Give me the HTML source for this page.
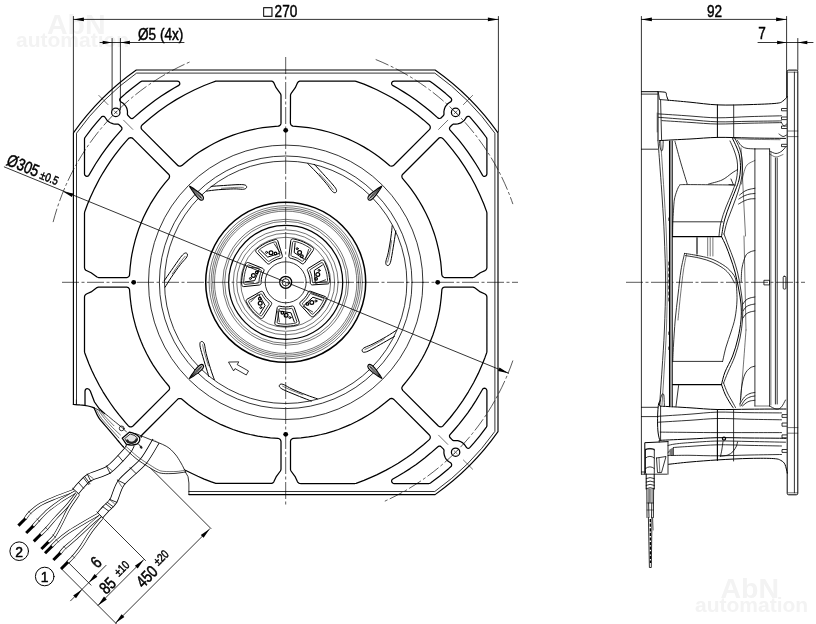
<!DOCTYPE html><html><head><meta charset="utf-8"><title>Drawing</title><style>
html,body{margin:0;padding:0;background:#fff}
svg{display:block;filter:grayscale(1)}
path,circle,rect{fill:none;stroke:#000;stroke-linecap:round;stroke-linejoin:round}
.k{stroke-width:1.25}
.k2{stroke-width:1.5}
.n{stroke-width:.8}
.n2{stroke-width:1}
.f{stroke-width:1.15}
.cl{stroke-width:1.1;fill:#c8c8c8}
.t{stroke-width:.55}
.c{stroke-width:.65;stroke-dasharray:17 2.5 3 2.5;stroke-linecap:butt}
.c2{stroke-width:.65;stroke-dasharray:14 2.5 3 2.5;stroke-linecap:butt}
.a{fill:#000;stroke:none}
.w{fill:#fff;stroke:none}
text{font-family:"Liberation Sans",sans-serif;fill:#000;stroke:#000;stroke-width:.5}
.wm{fill:#f3f3f3;font-weight:bold;stroke:none}
</style></head><body><svg width="816" height="624" viewBox="0 0 816 624">
<text class="wm" x="47" y="34" font-size="28.5">AbN</text>
<text class="wm" x="16" y="47" font-size="21">automation</text>
<text class="wm" x="720.5" y="597.5" font-size="28.5">AbN</text>
<text class="wm" x="695" y="612.3" font-size="21">automation</text>
<path class="k" d="M402.7 386L402.1 387L401.8 388.1L402.1 389.3L402.7 390.4L438.4 426L439.5 426.7L440.8 426.9L442 426.6L443 425.9L450.3 417.5L456.8 409.2L462.8 400.6L468.4 391.8L473.6 382.7L478.3 373.4L482.5 363.8L485 357.4L486.7 352.7L486.9 351.6L486.9 297L486.6 295.7L485.9 294.7L485 294L480.3 291.9L474.4 287.6L473 287.1L445 287L443.8 287.3L442.8 287.9L442.1 288.8L441.9 289.5L441.2 297.6L440.3 305.2L439.5 310.3L437.9 317.8L436 325.2L434.5 330.1L432.9 335L430.1 342.1L428.1 346.8L424.7 353.7L422.3 358.2L418.4 364.8L414.2 371.2L411.2 375.4L406.5 381.4Z"/>
<path class="k" d="M402.8 174.2L402.1 175.1L401.9 175.9L401.9 176.9L402.3 178.1L408.1 185.1L411.2 189.2L415.6 195.4L418.4 199.8L422.3 206.4L425.9 213.2L429.1 220.1L431.1 224.9L433.7 232L435.3 236.9L436.7 241.9L438.5 249.3L439.5 254.3L440.7 261.9L441.2 267L441.8 274.6L442.1 275.7L442.5 276.3L442.9 276.8L443.8 277.3L445 277.6L473 277.5L474.4 277L480.3 272.7L485 270.6L485.9 269.9L486.6 268.9L486.9 267.6L486.9 213L486.7 211.9L483.8 204L479.7 194.4L475.2 185L470.2 175.8L464.7 166.9L458.8 158.2L452.5 149.9L445.9 141.9L443 138.7L442 138L441.3 137.7L440.1 137.7L438.8 138.2Z"/>
<path class="k" d="M293.5 438.4L292.3 438.7L291.3 439.4L290.7 440.4L290.5 441.1L290.5 469.6L291 471L295.3 476.9L297.4 481.6L297.8 482.2L298.5 482.9L299.2 483.3L300.4 483.5L355 483.5L356.1 483.3L364 480.4L370.4 477.7L376.7 474.9L386.1 470.1L392.2 466.8L398.2 463.2L406.9 457.4L412.6 453.4L418.1 449.1L423.5 444.7L429.3 439.6L430.1 438.5L430.3 437.2L430.1 436L429.4 435L393.8 399.4L392.7 398.7L391.5 398.4L390.5 398.6L389.8 398.9L384.8 403.1L378.8 407.8L372.6 412.2L368.2 415L361.6 418.9L357.1 421.3L350.2 424.7L345.5 426.7L338.4 429.5L333.5 431.1L326.2 433.3L321.2 434.5L313.7 436.1L308.6 436.9L301 437.8Z"/>
<path class="k" d="M290.4 123L290.6 124.1L290.9 124.8L291.8 125.6L292.8 126.1L301 126.8L308.6 127.7L313.7 128.5L321.2 130.1L328.6 132L333.5 133.5L340.8 136L347.9 138.9L352.5 141L357.1 143.3L363.8 146.9L368.2 149.6L374.6 153.8L378.8 156.8L384.8 161.5L389.8 165.7L390.5 166L391.5 166.2L392.7 165.9L393.8 165.2L429.4 129.6L430.1 128.6L430.3 127.4L430.1 126.1L429.3 125L423.5 119.9L418.1 115.5L409.8 109.2L404 105.2L398.2 101.4L392.2 97.8L386.1 94.5L376.8 89.7L370.4 86.9L364 84.2L356.1 81.3L355 81.1L300.4 81.1L299.7 81.2L298.7 81.6L298.1 82.1L297.4 83L295.3 87.7L291 93.6L290.5 95Z"/>
<path class="k" d="M142 435L141.3 436.1L141.1 437.4L141.4 438.6L142.1 439.6L147.9 444.7L153.3 449.2L161.6 455.4L167.4 459.4L173.2 463.2L179.2 466.8L185.3 470.2L191.5 473.3L197.8 476.3L204.2 479.1L210.7 481.7L215.8 483.4L271.7 483.4L272.9 482.9L273.7 482.1L276.1 476.9L280.4 471L280.9 469.8L281 469L281 441.6L280.9 440.9L280.5 439.9L279.6 439L278.6 438.5L278 438.4L270.4 437.8L262.8 436.9L257.7 436.1L250.2 434.5L245.2 433.3L237.9 431.1L233 429.5L225.9 426.7L221.2 424.7L214.3 421.3L209.8 418.9L203.2 415L198.9 412.3L194.6 409.3L188.5 404.7L182 399.2L181.5 398.9L180.5 398.5L179.1 398.5L178.1 398.9L177.6 399.4Z"/>
<path class="k" d="M142.1 125L141.3 126.1L141.1 127.4L141.3 128.6L142 129.6L177.6 165.2L178.1 165.7L179.1 166.1L180.5 166.1L181.5 165.7L182 165.4L188.5 159.9L194.6 155.3L198.9 152.3L203.2 149.6L209.8 145.7L214.3 143.3L221.2 139.9L225.9 137.9L233 135.1L237.9 133.5L245.2 131.3L250.2 130.1L257.7 128.5L262.8 127.7L270.4 126.8L278 126.2L278.6 126.1L279.6 125.6L280.5 124.7L280.9 123.7L281 123L281 95.6L280.9 94.8L280.4 93.6L276.1 87.7L273.7 82.5L272.9 81.7L271.7 81.2L215.8 81.2L210.7 83L204.2 85.5L194.7 89.7L185.3 94.5L176.2 99.6L167.3 105.2L158.8 111.2L150.6 117.7Z"/>
<path class="k" d="M84.5 267.6L84.8 268.9L85.4 269.8L85.8 270.2L91.1 272.7L97 277L98.4 277.5L126.4 277.6L127.6 277.3L128.6 276.7L129.3 275.8L129.5 275.1L130.2 267L131.1 259.4L131.9 254.3L133.5 246.8L135.4 239.4L136.9 234.5L138.5 229.6L141.3 222.5L143.3 217.8L146.7 210.9L150.3 204.2L153 199.8L157.2 193.4L160.2 189.2L164.9 183.2L168.8 178.6L169.3 177.6L169.5 176.9L169.5 175.9L169.3 175.1L168.6 174.2L133 138.6L131.9 137.9L130.6 137.7L130 137.8L128.9 138.2L128.4 138.7L125.5 141.9L121 147.2L114.6 155.4L110.5 161.1L106.7 166.9L103 172.8L99.5 178.8L94.7 188.1L90.3 197.6L87.6 204L85.2 210.5L84.7 211.9L84.5 213Z"/>
<path class="k" d="M86.4 294L85.5 294.7L85 295.3L84.6 296.3L84.5 297L84.5 351.6L84.7 352.7L86.4 357.3L88.9 363.8L91.7 370.2L94.7 376.5L99.5 385.8L103 391.8L106.7 397.7L110.6 403.5L114.6 409.2L118.9 414.7L125.5 422.7L128.4 425.9L128.9 426.4L130.1 426.9L131.3 426.9L131.9 426.7L133 426L168.6 390.4L169.1 389.9L169.5 388.9L169.6 388.1L169.4 387.1L168.8 386L164.9 381.4L160.2 375.4L157.2 371.2L153 364.8L150.3 360.4L146.7 353.7L143.3 346.8L141.3 342.1L139.4 337.3L136.9 330.1L135.4 325.2L133.5 317.8L131.9 310.3L131.1 305.2L130.2 297.6L129.5 289.5L129.3 288.8L128.6 287.9L127.6 287.3L126.4 287L98.4 287.1L97 287.6L91.1 291.9Z"/>
<path class="k" d="M454.1 430L449.8 434.9L449.5 435.6L449.5 436.2L449.6 436.9L450.2 437.8L452.5 440.1L453.1 440.4L453.7 440.6L456.3 440.5L457.8 440.7L459.3 441.1L460.9 441.8L462.7 442.9L463.9 444L464.9 445.2L466.6 447.6L467.2 448L468 448.3L469.2 448.1L470 447.4L474.4 442.4L479.6 436.2L486.4 427.1L486.9 426L486.9 390.7L486.6 389.6L486 388.8L485.2 388.3L484.2 388.2L483.3 388.5L482.6 389.2L479.7 394.3L475.9 400.6L471.9 406.8L467.8 412.8L463.4 418.6L458.9 424.4Z"/>
<path class="k" d="M450.2 126.8L449.7 127.5L449.5 128.4L449.6 129.3L449.9 129.9L454.1 134.6L458.9 140.2L463.4 145.9L467.8 151.8L471.9 157.8L475.9 164L479.7 170.3L482.6 175.4L483.3 176.1L484 176.3L485 176.3L485.9 175.9L486.6 175L486.9 173.9L486.9 139L486.7 138.1L486.4 137.5L482 131.6L477 125.3L470 117.2L469.6 116.7L469 116.4L467.8 116.4L466.8 116.8L466.3 117.3L465.3 118.9L464.4 120.2L462.8 121.6L461.4 122.6L459.5 123.4L457.8 123.9L455.7 124.1L453.9 124L453.1 124.2L452.3 124.7Z"/>
<path class="k" d="M392.9 479L392.2 479.5L391.8 480.1L391.6 480.8L391.7 481.6L391.9 482.2L392.4 482.8L393 483.2L393.7 483.5L429 483.5L429.7 483.4L430.5 483L433.1 481.1L439.5 476.2L448.9 468.4L451.3 466.2L451.6 465.3L451.6 464.2L451.3 463.6L450.9 463L448.6 461.5L447.3 460.4L446.3 459.3L445.4 458L444.6 456.1L444.2 454.6L443.9 452.9L444 450.3L443.8 449.7L443.5 449.1L440.7 446.4L439.9 446.1L439 446.1L437.9 446.7L430.6 453.1L425 457.7L416.2 464.4L410.1 468.6L404 472.5L397.7 476.3Z"/>
<path class="k" d="M394.1 81.1L393.2 81.3L392.5 81.6L392.1 82.1L391.7 82.8L391.6 83.5L391.7 84.2L392.1 84.9L392.6 85.4L397.7 88.3L404 92.1L410.1 96L416.2 100.2L425 106.9L430.6 111.5L437.8 117.9L438.7 118.4L439.6 118.5L440.7 118.2L443.5 115.5L443.8 114.9L444 114.3L443.9 111.7L444.2 110L444.6 108.5L445.4 106.6L446.3 105.3L447.4 104.1L449.1 102.7L450.9 101.6L451.5 100.6L451.7 100L451.6 99.3L451.4 98.6L450.8 98L445.8 93.6L439.6 88.5L433.1 83.5L429.9 81.3L429 81.1Z"/>
<path class="k" d="M120.6 98L120 98.6L119.7 99.5L119.8 100.4L120.1 101L120.7 101.7L122.8 103.1L124.1 104.2L125.5 105.8L126.6 107.8L127.1 109.3L127.4 110.8L127.5 112.3L127.4 114.3L127.8 115.3L130.5 118.1L131.5 118.5L132.4 118.5L133.5 117.9L140.8 111.5L146.4 106.9L155.2 100.2L161.3 96L167.4 92.1L173.7 88.3L178.8 85.4L179.6 84.5L179.8 83.8L179.7 83L179.3 82.1L178.9 81.6L178.2 81.3L177.3 81.1L142.4 81.1L141.7 81.2L140.9 81.6L138.3 83.5L131.8 88.4L125.6 93.6Z"/>
<path class="k" d="M85 137.5L84.6 138.3L84.5 139L84.5 173.9L84.7 174.8L85.2 175.6L86 176.2L86.9 176.4L87.9 176.2L88.8 175.4L95.5 164L101.5 154.8L105.8 148.9L110.3 143L114.9 137.4L121.5 129.9L121.9 129L121.9 127.9L121.6 127.3L121.2 126.8L119.1 124.7L118.3 124.2L117.5 124L115.1 124.1L113.4 123.8L111.4 123.2L109.9 122.5L108.1 121.2L107 120.2L104.8 117L103.8 116.4L102.7 116.4L102 116.6L101.4 117.1L97 122.2L91.8 128.4Z"/>
<path class="f" d="M73.4 404.5L73.4 132.9A259.6 259.6 0 0 1 136.3 70L435.1 70A259.6 259.6 0 0 1 498 132.9L498 431.7A259.6 259.6 0 0 1 435.1 494.6L188.9 494.6"/>
<path class="n" d="M76.5 404.5L76.5 133.2A256.9 256.9 0 0 1 136.6 73.1L434.8 73.1A256.9 256.9 0 0 1 494.9 133.2L494.9 431.4A256.9 256.9 0 0 1 434.8 491.5L188.9 491.5"/>
<circle class="n" cx="285.7" cy="282.3" r="137.2"/>
<circle class="n" cx="285.7" cy="282.3" r="126.3"/>
<circle class="n" cx="285.7" cy="282.3" r="121.2"/>
<circle class="k2" cx="285.7" cy="282.3" r="80"/>
<circle class="t" cx="285.7" cy="282.3" r="76.6"/>
<circle class="t" cx="285.7" cy="282.3" r="74.6"/>
<circle class="t" cx="285.7" cy="282.3" r="72.9"/>
<circle class="t" cx="285.7" cy="282.3" r="71.2"/>
<circle class="t" cx="285.7" cy="282.3" r="63"/>
<circle class="t" cx="285.7" cy="282.3" r="61"/>
<circle class="k" cx="285.7" cy="282.3" r="57"/>
<circle class="t" cx="285.7" cy="282.3" r="52.5"/>
<circle class="t" cx="285.7" cy="282.3" r="49"/>
<circle class="t" cx="285.7" cy="282.3" r="45"/>
<circle class="n" cx="285.7" cy="282.3" r="20.5"/>
<circle class="k" cx="285.7" cy="282.3" r="6"/>
<circle class="n" cx="285.7" cy="282.3" r="3.6"/>
<path class="n2" d="M256.4 249.5L256 249.9L255.8 250.4L255.7 250.9L255.8 251.5L256 252L256.3 252.4L267.1 263.4L267.5 263.7L268 263.9L268.5 264L269 264L269.5 263.8L270.5 262.9L272.7 261.4L275.2 260.1L277.7 259L281.2 258.1L281.7 257.8L282.1 257.3L282.3 256.8L282.4 256.2L282.3 255.7L277.8 240.9L277.6 240.5L277.3 240.1L276.9 239.8L276.5 239.6L276 239.5L275.5 239.5L274.1 239.9L271.2 240.8L268.2 241.9L265.3 243.3L262.5 244.9L259.8 246.7L257.3 248.7Z"/>
<path class="n" d="M261 248.4L258.7 250.4L258.4 251L258.5 251.3L258.8 251.9L267.8 261.1L268.4 261.4L268.7 261.4L269.3 261.2L271.7 259.6L274.3 258.2L276.8 257.1L279.3 256.3L279.8 255.9L279.9 255.6L279.9 255L276.2 242.7L275.9 242.1L275.3 241.9L274.7 241.9L271.8 242.8L269 243.9L266.2 245.2L263.5 246.8Z"/>
<path class="n2" d="M260.8 250.4L267.7 257.1L278.8 253.6"/>
<path class="n" d="M274.3 243.9L280.2 252.8"/>
<circle class="k" cx="271" cy="252.8" r="1.9"/>
<circle class="k" cx="275.5" cy="253.5" r="1.3"/>
<circle class="n2" cx="266.6" cy="252.4" r="1"/>
<path class="n2" d="M293.1 238.9L292.5 238.9L292 239.1L291.5 239.3L291.2 239.7L290.9 240.2L290.8 240.7L288.9 256L288.9 256.5L289 257L289.3 257.4L289.6 257.8L290.1 258.1L291.4 258.4L293.9 259.1L296.5 260.2L298.9 261.5L301.9 263.7L302.4 263.9L303 263.9L303.5 263.7L304 263.4L304.4 263L313.2 250.4L313.4 249.9L313.5 249.4L313.5 248.9L313.4 248.4L313.1 248L312.8 247.6L311.7 246.8L309.1 245L306.3 243.4L303.4 242L300.5 240.8L297.4 239.9L294.3 239.1Z"/>
<path class="n" d="M291.1 255.1L291.2 255.7L291.7 256.2L294.7 257.2L297.3 258.2L299.9 259.7L301.7 261L302.3 261.2L302.6 261.2L303.2 260.9L303.4 260.7L310.7 250.2L311 249.6L310.9 249.3L310.7 248.7L310.4 248.5L308 246.8L305.3 245.3L302.6 243.9L299.7 242.8L296.8 241.9L294.1 241.3L293.5 241.3L292.9 241.7L292.7 242.3Z"/>
<path class="n2" d="M295.1 242.9L294.2 252.5L303.8 259"/>
<path class="n" d="M308.6 249.5L305.4 259.6"/>
<circle class="k" cx="299.6" cy="252.4" r="1.9"/>
<circle class="k" cx="301.9" cy="256.3" r="1.3"/>
<circle class="n2" cx="297.2" cy="248.7" r="1"/>
<path class="n2" d="M324.2 261L323.9 260.6L323.4 260.3L322.9 260.1L322.4 260L321.9 260.1L321.4 260.3L308.3 268.4L307.9 268.7L307.6 269.1L307.4 269.6L307.3 270.1L307.4 270.6L308 271.8L308.9 274.3L309.7 277L310.2 279.7L310.3 283.3L310.5 283.9L310.9 284.3L311.3 284.6L311.8 284.8L312.4 284.9L327.8 283.9L328.3 283.8L328.7 283.5L329.1 283.2L329.4 282.8L329.6 282.3L329.7 281.8L329.7 280.4L329.4 277.4L328.9 274.2L328.2 271.1L327.3 268L326.1 265L324.8 262.1Z"/>
<path class="n" d="M310.4 269.6L309.9 270.1L309.8 270.7L311 273.7L311.7 276.4L312.2 279.3L312.4 281.6L312.6 282.2L312.8 282.4L313.3 282.7L313.6 282.7L326.4 281.8L326.8 281.8L327.3 281.4L327.5 280.9L327.6 280.5L327.3 277.6L326.9 274.6L326.2 271.6L325.3 268.6L324.2 265.8L323 263.3L322.6 262.8L322 262.6L321.3 262.8Z"/>
<path class="n2" d="M322.4 265.1L314.3 270.4L315.2 282"/>
<path class="n" d="M325.6 279.8L315.7 283.5"/>
<circle class="k" cx="317.8" cy="274.5" r="1.9"/>
<circle class="k" cx="316.1" cy="278.8" r="1.3"/>
<circle class="n2" cx="319.1" cy="270.4" r="1"/>
<path class="n2" d="M326.3 299.1L326.5 298.6L326.4 298.1L326.3 297.6L326 297.1L325.6 296.7L325.1 296.5L310.6 291.3L310.1 291.2L309.6 291.2L309.1 291.3L308.7 291.6L308.4 291.9L307.8 293.2L306.5 295.5L304.8 297.8L303 299.8L300.2 302.2L300 302.7L299.8 303.2L299.8 303.8L300 304.3L300.3 304.8L310.7 316.2L311.1 316.5L311.6 316.7L312.1 316.8L312.6 316.8L313 316.7L313.5 316.4L314.6 315.5L316.8 313.4L319 311.1L321 308.6L322.8 305.9L324.5 303.1L325.9 300.2Z"/>
<path class="n" d="M304.6 301.1L302.7 302.9L302.5 303.5L302.5 303.8L302.8 304.4L311.5 313.9L312 314.2L312.6 314.2L313.2 313.9L315.4 311.9L317.5 309.6L319.3 307.3L321.1 304.8L322.6 302.1L323.8 299.7L323.9 299L323.7 298.4L323.1 298L311.1 293.7L310.4 293.6L309.8 293.9L309.6 294.2L308.2 296.7L306.4 299.1Z"/>
<path class="n2" d="M322 300.2L312.9 297.2L304.3 305.2"/>
<path class="n" d="M312.6 311.9L303.4 306.5"/>
<circle class="k" cx="311.8" cy="302.5" r="1.9"/>
<circle class="k" cx="307.4" cy="303.9" r="1.3"/>
<circle class="n2" cx="315.9" cy="301" r="1"/>
<path class="n2" d="M297.9 324.6L298.4 324.3L298.8 324L299.1 323.6L299.3 323.1L299.3 322.5L299.2 322L294.2 307.4L294 306.9L293.7 306.5L293.3 306.3L292.8 306.1L292.3 306L290.9 306.3L288.4 306.8L285.6 306.9L282.8 306.7L279.2 306.1L278.7 306.2L278.1 306.4L277.7 306.8L277.4 307.2L277.2 307.8L274.8 323L274.8 323.5L274.9 324L275.1 324.4L275.5 324.8L275.9 325.1L276.4 325.3L277.7 325.6L280.8 326L284 326.3L287.2 326.3L290.4 326L293.6 325.6L296.7 324.9Z"/>
<path class="n" d="M279.1 309.5L277.1 322.4L277.3 323L277.8 323.4L281 323.9L284.2 324.2L287.2 324.2L290.3 323.9L293.3 323.5L295.9 322.9L296.5 322.6L296.8 322L296.8 321.4L292.5 308.9L292 308.5L291.6 308.4L288.4 308.9L285.7 309L282.8 308.8L280.5 308.5L279.9 308.5L279.6 308.7L279.2 309.1Z"/>
<path class="n2" d="M294.3 321.9L291 312.8L279.5 311.1"/>
<path class="n" d="M279.3 321.8L277.8 311.2"/>
<circle class="k" cx="286.1" cy="315.3" r="1.9"/>
<circle class="k" cx="282.4" cy="312.7" r="1.3"/>
<circle class="n2" cx="289.9" cy="317.6" r="1"/>
<path class="n2" d="M260.3 318.2L260.7 318.4L261.3 318.5L261.8 318.5L262.3 318.3L262.7 318L263.1 317.6L271.4 304.6L271.6 304.2L271.7 303.7L271.7 303.2L271.5 302.7L271.3 302.2L270.2 301.4L268.3 299.6L266.4 297.5L264.8 295.3L263.1 292.1L262.7 291.7L262.2 291.4L261.6 291.3L261 291.4L260.5 291.6L247.1 299.2L246.7 299.5L246.4 299.9L246.2 300.3L246.1 300.8L246.1 301.3L246.3 301.8L246.9 303L248.4 305.7L250.2 308.4L252.2 310.9L254.4 313.2L256.8 315.4L259.3 317.5Z"/>
<path class="n" d="M249.2 300.4L248.7 300.8L248.6 301.4L248.6 301.7L250.2 304.6L252 307.2L253.9 309.6L256 311.8L258.2 313.9L260.3 315.6L260.9 315.9L261.6 315.7L262.1 315.3L269.1 304.2L269.2 303.8L269 303.2L266.6 301L264.8 298.9L263.1 296.5L262 294.5L261.8 294.3L261.3 294L260.7 294L260.4 294.1Z"/>
<path class="n2" d="M260.1 313.7L265.1 305.5L259.3 295.4"/>
<path class="n" d="M250.8 301.9L258.2 294.2"/>
<circle class="k" cx="260.2" cy="303.2" r="1.9"/>
<circle class="k" cx="259.8" cy="298.7" r="1.3"/>
<circle class="n2" cx="260.8" cy="307.6" r="1"/>
<path class="n2" d="M241.8 284.8L241.9 285.3L242.1 285.8L242.5 286.2L243 286.5L243.5 286.6L244 286.6L259.3 285L259.8 284.9L260.3 284.7L260.7 284.3L260.9 283.9L261.1 283.4L261.1 282.1L261.3 279.5L261.8 276.7L262.5 274.1L264 270.7L264 270.1L263.9 269.6L263.6 269.1L263.2 268.7L262.8 268.4L248.4 262.6L248 262.5L247.5 262.5L247 262.6L246.5 262.9L246.2 263.2L245.9 263.6L245.3 264.9L244.2 267.8L243.2 270.8L242.5 274L242 277.1L241.7 280.3L241.7 283.6Z"/>
<path class="n" d="M243.8 283.2L244 283.8L244.2 284.1L244.5 284.3L245.1 284.4L257.9 283.1L258.6 282.8L258.8 282.6L259 281.9L259.2 279.1L259.7 276.2L260.5 273.5L261.4 271.1L261.4 270.8L261.2 270.2L260.7 269.8L248.8 265L248.2 265L247.6 265.2L247.2 265.7L246.1 268.6L245.2 271.5L244.6 274.4L244.1 277.5L243.8 280.5Z"/>
<path class="n2" d="M245.2 281.9L254.7 280.6L259 269.8"/>
<path class="n" d="M248.6 267.3L259.2 268.2"/>
<circle class="k" cx="253.4" cy="275.4" r="1.9"/>
<circle class="k" cx="256.8" cy="272.3" r="1.3"/>
<circle class="n2" cx="250.4" cy="278.5" r="1"/>
<path class="n2" d="M164.2 280.8C165.4 279.1 168.6 274.4 171.3 270.5C174 266.6 178.2 260.5 180.3 257.7C182.4 254.9 183.1 254.4 184.1 253.6C185.1 252.8 185.8 252.9 186.4 253.1C187 253.3 187.6 254.1 187.5 254.9C187.4 255.7 187.2 256.5 186 258.1C184.8 259.7 182.8 261.5 180.3 264.7C177.8 267.9 173.8 273.6 171.3 277.3C168.8 281.1 166.1 285.6 165.1 287.2"/>
<path class="t" d="M172.2 273.9C173.6 271.9 178.3 264.9 180.5 262C182.7 259.1 184.3 257.2 185.1 256.3"/>
<path class="n2" d="M211.1 186.4C213.2 186.2 218.9 185.8 223.6 185.5C228.3 185.2 235.7 184.6 239.2 184.6C242.8 184.5 243.6 184.7 244.8 185C246 185.3 246.4 185.9 246.6 186.5C246.8 187 246.6 188 245.9 188.4C245.2 188.9 244.5 189.2 242.5 189.3C240.4 189.3 237.8 188.8 233.7 188.9C229.7 189 222.8 189.4 218.3 189.7C213.8 190.1 208.6 190.8 206.7 191.1"/>
<path class="t" d="M221.5 188.3C223.9 188.2 232.3 187.5 236 187.4C239.6 187.2 242.1 187.4 243.3 187.4"/>
<path class="n2" d="M314.2 164.2C315.6 165.7 319.5 169.9 322.7 173.4C325.8 176.9 330.9 182.3 333.1 185C335.4 187.7 335.8 188.5 336.3 189.6C336.8 190.8 336.6 191.5 336.3 192C335.9 192.5 335.1 192.9 334.3 192.7C333.5 192.4 332.8 192 331.5 190.5C330.2 189 328.9 186.6 326.3 183.5C323.7 180.4 319.1 175.2 316 171.9C312.9 168.6 309.1 165 307.8 163.6"/>
<path class="t" d="M319.2 173.5C320.8 175.3 326.5 181.5 328.9 184.3C331.3 187 332.7 189.1 333.4 190"/>
<path class="n2" d="M395.8 230.9C395.5 233 394.6 238.7 393.9 243.3C393.1 247.9 392 255.3 391.3 258.7C390.6 262.2 390.3 263 389.7 264.1C389.1 265.2 388.4 265.5 387.8 265.5C387.2 265.6 386.4 265.2 386.1 264.4C385.8 263.6 385.7 262.8 386 260.9C386.4 258.9 387.5 256.4 388.3 252.4C389.1 248.5 390.3 241.7 390.9 237.2C391.6 232.7 392 227.5 392.2 225.6"/>
<path class="t" d="M391.6 240.6C391.2 243 390 251.4 389.3 255C388.6 258.5 387.9 260.9 387.6 262.1"/>
<path class="n2" d="M394.5 336.4C392.7 337.4 387.7 340.3 383.6 342.6C379.6 344.9 373.1 348.6 370 350.2C366.8 351.8 366 352 364.8 352.2C363.5 352.5 362.9 352.1 362.5 351.7C362.1 351.3 361.9 350.3 362.3 349.6C362.7 348.9 363.2 348.3 365 347.4C366.8 346.4 369.4 345.7 373 343.9C376.6 342.1 382.7 338.7 386.6 336.5C390.5 334.2 394.8 331.3 396.5 330.2"/>
<path class="t" d="M384.3 339.1C382.2 340.3 374.9 344.5 371.7 346.2C368.5 348 366.2 348.9 365 349.4"/>
<path class="n2" d="M311.3 401.1C309.3 400.3 304 398.2 299.6 396.5C295.3 394.7 288.4 392 285.2 390.5C281.9 389.1 281.3 388.6 280.3 387.7C279.3 386.9 279.2 386.2 279.3 385.6C279.4 385 280 384.3 280.8 384.1C281.7 384 282.4 384.1 284.3 384.9C286.1 385.7 288.3 387.3 292 389C295.6 390.7 302 393.3 306.3 394.9C310.5 396.6 315.5 398.1 317.3 398.8"/>
<path class="t" d="M302.8 394.8C300.5 393.9 292.6 390.8 289.3 389.4C286 387.9 283.8 386.7 282.7 386.2"/>
<path class="n2" d="M208.8 376.3C208.2 374.4 206.5 368.9 205.1 364.4C203.8 359.9 201.6 352.8 200.7 349.4C199.9 345.9 199.9 345.1 199.9 343.8C199.9 342.6 200.4 342 200.9 341.7C201.5 341.4 202.4 341.4 203 342C203.7 342.6 204.1 343.2 204.6 345.1C205.1 347.1 205.2 349.8 206.2 353.7C207.2 357.6 209.1 364.3 210.5 368.6C211.8 372.9 213.7 377.8 214.3 379.6"/>
<path class="t" d="M208.4 365.8C207.7 363.5 205.2 355.4 204.2 351.9C203.3 348.4 202.9 345.9 202.6 344.7"/>
<path class="cl" d="M189.5 186.1C189.8 185.9 192.2 187.7 193.9 188.8C195.6 190 198.1 191.7 199.6 193C201.2 194.3 202.5 195.5 203.1 196.6C203.7 197.7 203.6 199.2 203.1 199.7C202.6 200.2 201.1 200.3 200 199.7C198.9 199.1 197.7 197.8 196.4 196.2C195.1 194.7 193.4 192.2 192.2 190.5C191.1 188.8 189.3 186.4 189.5 186.1Z"/>
<path class="t" d="M191.7 188.3C191.9 188 195.6 191 197.2 192.6C198.8 194.2 201.4 197.6 201.2 197.8C201 198 197.6 195.4 196 193.8C194.4 192.2 191.4 188.5 191.7 188.3Z"/>
<path class="t" d="M190.9 187.5L202.3 198.9"/>
<path class="cl" d="M381.9 186.1C382.1 186.4 380.3 188.8 379.2 190.5C378 192.2 376.3 194.7 375 196.2C373.7 197.8 372.5 199.1 371.4 199.7C370.3 200.3 368.8 200.2 368.3 199.7C367.8 199.2 367.7 197.7 368.3 196.6C368.9 195.5 370.2 194.3 371.8 193C373.3 191.7 375.8 190 377.5 188.8C379.2 187.7 381.6 185.9 381.9 186.1Z"/>
<path class="t" d="M379.7 188.3C380 188.5 377 192.2 375.4 193.8C373.8 195.4 370.4 198 370.2 197.8C370 197.6 372.6 194.2 374.2 192.6C375.8 191 379.5 188 379.7 188.3Z"/>
<path class="t" d="M380.5 187.5L369.1 198.9"/>
<path class="cl" d="M381.9 378.5C381.6 378.7 379.2 376.9 377.5 375.8C375.8 374.6 373.3 372.9 371.8 371.6C370.2 370.3 368.9 369.1 368.3 368C367.7 366.9 367.8 365.4 368.3 364.9C368.8 364.4 370.3 364.3 371.4 364.9C372.5 365.5 373.7 366.8 375 368.4C376.3 369.9 378 372.4 379.2 374.1C380.3 375.8 382.1 378.2 381.9 378.5Z"/>
<path class="t" d="M379.7 376.3C379.5 376.6 375.8 373.6 374.2 372C372.6 370.4 370 367 370.2 366.8C370.4 366.6 373.8 369.2 375.4 370.8C377 372.4 380 376.1 379.7 376.3Z"/>
<path class="t" d="M380.5 377.1L369.1 365.7"/>
<path class="cl" d="M189.5 378.5C189.3 378.2 191.1 375.8 192.2 374.1C193.4 372.4 195.1 369.9 196.4 368.4C197.7 366.8 198.9 365.5 200 364.9C201.1 364.3 202.6 364.4 203.1 364.9C203.6 365.4 203.7 366.9 203.1 368C202.5 369.1 201.2 370.3 199.6 371.6C198.1 372.9 195.6 374.6 193.9 375.8C192.2 376.9 189.8 378.7 189.5 378.5Z"/>
<path class="t" d="M191.7 376.3C191.4 376.1 194.4 372.4 196 370.8C197.6 369.2 201 366.6 201.2 366.8C201.4 367 198.8 370.4 197.2 372C195.6 373.6 191.9 376.6 191.7 376.3Z"/>
<path class="t" d="M190.9 377.1L202.3 365.7"/>
<path class="n" d="M228.7 362.4L233.6 370.9L235 368.6L246.3 375L248.5 371L237.2 364.6L238.6 362.2Z"/>
<circle class="k" cx="115.8" cy="112.4" r="4.2"/>
<path class="t" d="M132.8 129.4L123.6 120.2"/>
<path class="t" d="M108 104.6L98.8 95.4"/>
<path class="t" d="M117.3 113.9L114.2 110.8"/>
<path class="t" d="M114.2 113.9L117.3 110.8"/>
<circle class="k" cx="455.6" cy="112.4" r="4.2"/>
<path class="t" d="M438.6 129.4L447.8 120.2"/>
<path class="t" d="M463.4 104.6L472.6 95.4"/>
<path class="t" d="M454.1 113.9L457.2 110.8"/>
<path class="t" d="M454.1 110.8L457.2 113.9"/>
<circle class="k" cx="455.6" cy="452.2" r="4.2"/>
<path class="t" d="M438.6 435.2L447.8 444.4"/>
<path class="t" d="M463.4 460L472.6 469.2"/>
<path class="t" d="M454.1 450.7L457.2 453.8"/>
<path class="t" d="M457.2 450.7L454.1 453.8"/>
<circle class="a" cx="133.7" cy="282.3" r="2.4"/>
<circle class="a" cx="437.7" cy="282.3" r="2.4"/>
<circle class="a" cx="285.7" cy="130.3" r="2.4"/>
<circle class="a" cx="285.7" cy="434.3" r="2.4"/>
<path class="c" d="M62 282.3L518 282.3"/>
<path class="c" d="M285.7 57L285.7 505"/>
<path class="c2" d="M53.1 222.1A240.3 240.3 0 0 1 191.8 61.1"/>
<path class="c2" d="M375.7 59.5A240.3 240.3 0 0 1 512.9 204.1"/>
<path class="c2" d="M512.9 360.5A240.3 240.3 0 0 1 383.4 501.8"/>
<path class="n" d="M73.4 16.5L73.4 132"/>
<path class="n" d="M498.4 16.5L498.4 132"/>
<path class="n" d="M73.4 19.4L498.4 19.4"/>
<path class="a" d="M73.4 19.4L83.9 17.5L83.9 21.3Z"/>
<path class="a" d="M498.4 19.4L487.9 21.3L487.9 17.5Z"/>
<text x="262.2" y="15.3" font-size="11.8" style="font-family:'DejaVu Sans','Liberation Sans',sans-serif;stroke-width:.35">□</text>
<text transform="translate(274.6 16.5) scale(0.8 1)" font-size="17" text-anchor="start">270</text>
<path class="n" d="M112.1 38.5L112.1 110"/>
<path class="n" d="M120.4 38.5L120.4 110"/>
<path class="n" d="M100 42.5L184 42.5"/>
<path class="a" d="M112.1 42.5L102.6 44.3L102.6 40.7Z"/>
<path class="a" d="M120.4 42.5L129.9 40.7L129.9 44.3Z"/>
<text transform="translate(138 39.5) scale(0.8 1)" font-size="17" text-anchor="start">Ø5 (4x)</text>
<path class="n" d="M4.3 166.9L508.5 373.2"/>
<path class="a" d="M62.9 191.4L73.4 193.6L71.9 197.1Z"/>
<path class="a" d="M508.5 373.2L498 371L499.5 367.5Z"/>
<text transform="translate(5.6 164.6) rotate(22.2) scale(0.8 1)" font-size="17">Ø305 <tspan font-size="12" dx="-1" dy="0">±0.5</tspan></text>
<path class="n" d="M140.4 458L211 528.6"/>
<path class="n" d="M104.5 519.5L145.5 560.5"/>
<path class="n" d="M61.7 569.1L116.5 623.9"/>
<path class="n" d="M69.1 563.2L91 585.1"/>
<path class="k" d="M73.4 404.5C74.5 404.6 77.6 404.6 80 404.9C82.4 405.1 85.7 405.5 88 406C90.3 406.5 93 407.5 94 407.8"/>
<path class="t" d="M76.3 404.6L76.3 400"/>
<path class="k" d="M85 404.9L85 391.5Q85 388.6 87.3 388.6Q89.2 388.6 90.3 391L94.5 402Q98.5 409 104.5 413.5"/>
<path class="n" d="M94 407.8C95.6 408.6 100.4 410.6 103.6 412.7C106.8 414.8 110.3 418 113.4 420.5C116.5 423 119.8 425.6 122 427.5C124.2 429.4 125.8 431.2 126.5 432"/>
<path class="k" d="M94 407.8C94.8 409.4 96.3 414 98.7 417.6C101.1 421.2 105.2 425.4 108.5 429.3C111.8 433.2 115.8 438.1 118.3 441C120.8 443.9 122.6 446 123.5 447"/>
<path class="t" d="M96.5 410C97.3 411.4 99.2 415.4 101.5 418.5C103.8 421.6 107.6 425.2 110.5 428.5C113.4 431.8 117.6 436.4 119 438"/>
<path class="t" d="M99 411C99.9 412.2 102.2 415.8 104.5 418.5C106.8 421.2 109.8 424.8 112.5 427.5C115.2 430.2 119.2 433.8 120.5 435"/>
<path class="t" d="M101.5 412.5C102.4 413.5 104.9 416.4 107 418.6C109.1 420.8 112.8 424.6 114 425.8"/>
<circle class="n" cx="121.7" cy="428.4" r="2.4"/>
<path class="w" d="M133 436L150 439.4L166.2 446.2L175 454L181 463L185.5 472L175 473.4L163.2 473.5L157 471.8L148.5 466.9L136 458.5L126 449Z"/>
<path d="M74 490.6C71.3 491.6 60.7 495.4 55.7 497.5C50.7 499.6 44.3 502.1 40.4 504.4C36.5 506.7 32.1 510.5 29.8 512.7C27.5 514.9 25.7 518.1 25 519" style="stroke-width:3.2;stroke-linecap:butt"/>
<path d="M74 490.6C71.3 491.6 60.7 495.4 55.7 497.5C50.7 499.6 44.3 502.1 40.4 504.4C36.5 506.7 32.1 510.5 29.8 512.7C27.5 514.9 25.7 518.1 25 519" style="stroke:#fff;stroke-width:2;stroke-linecap:butt"/>
<path d="M25.5 518.5L18.4 525.6" style="stroke-width:3;stroke-linecap:butt"/>
<path class="t" d="M28.6 511.2L31.2 513.9"/>
<path d="M75.5 492C73.2 493.4 64.3 498.5 60.2 501.3C56.1 504.1 51.3 507.6 48 510.4C44.7 513.2 40.5 517.9 38.2 520.3C35.9 522.7 33.6 525.5 32.8 526.4" style="stroke-width:3.2;stroke-linecap:butt"/>
<path d="M75.5 492C73.2 493.4 64.3 498.5 60.2 501.3C56.1 504.1 51.3 507.6 48 510.4C44.7 513.2 40.5 517.9 38.2 520.3C35.9 522.7 33.6 525.5 32.8 526.4" style="stroke:#fff;stroke-width:2;stroke-linecap:butt"/>
<path d="M33.3 525.9L26.2 533" style="stroke-width:3;stroke-linecap:butt"/>
<path class="t" d="M37 518.8L39.6 521.5"/>
<path d="M77 493.4C75.5 495.3 70.3 502.2 67.1 505.9C63.9 509.6 58.8 514.6 55.7 518C52.6 521.4 48.8 526.2 46.5 528.7C44.2 531.2 41.3 533.9 40.4 534.8" style="stroke-width:3.2;stroke-linecap:butt"/>
<path d="M77 493.4C75.5 495.3 70.3 502.2 67.1 505.9C63.9 509.6 58.8 514.6 55.7 518C52.6 521.4 48.8 526.2 46.5 528.7C44.2 531.2 41.3 533.9 40.4 534.8" style="stroke:#fff;stroke-width:2;stroke-linecap:butt"/>
<path d="M40.9 534.3L33.8 541.4" style="stroke-width:3;stroke-linecap:butt"/>
<path class="t" d="M45.3 527.2L47.9 529.9"/>
<path d="M78.4 494.4C76.9 496.6 71.2 504.4 68.6 508.9C66 513.4 63.2 520 61 524.1C58.8 528.2 56.1 533.6 54.1 536.3C52.1 539 48.9 541.5 48 542.4" style="stroke-width:3.2;stroke-linecap:butt"/>
<path d="M78.4 494.4C76.9 496.6 71.2 504.4 68.6 508.9C66 513.4 63.2 520 61 524.1C58.8 528.2 56.1 533.6 54.1 536.3C52.1 539 48.9 541.5 48 542.4" style="stroke:#fff;stroke-width:2;stroke-linecap:butt"/>
<path d="M48.5 541.9L41.4 549" style="stroke-width:3;stroke-linecap:butt"/>
<path class="t" d="M52.9 534.8L55.5 537.5"/>
<path d="M98 514.6C95.5 516 86 521.4 81.5 524.1C77 526.8 71.4 530 67.8 532.5C64.2 535 59.6 538.8 57.2 540.9C54.8 543 52.4 545.7 51.6 546.6" style="stroke-width:3.2;stroke-linecap:butt"/>
<path d="M98 514.6C95.5 516 86 521.4 81.5 524.1C77 526.8 71.4 530 67.8 532.5C64.2 535 59.6 538.8 57.2 540.9C54.8 543 52.4 545.7 51.6 546.6" style="stroke:#fff;stroke-width:2;stroke-linecap:butt"/>
<path d="M52.1 546.1L45 553.2" style="stroke-width:3;stroke-linecap:butt"/>
<path class="t" d="M56 539.4L58.6 542.1"/>
<path d="M100 516.2C98.1 517.9 91.3 523.8 87.6 527.2C83.9 530.6 78.8 535.5 75.4 538.6C72 541.7 67.1 545.5 64.8 547.7C62.5 549.9 60.7 552.5 60 553.4" style="stroke-width:3.2;stroke-linecap:butt"/>
<path d="M100 516.2C98.1 517.9 91.3 523.8 87.6 527.2C83.9 530.6 78.8 535.5 75.4 538.6C72 541.7 67.1 545.5 64.8 547.7C62.5 549.9 60.7 552.5 60 553.4" style="stroke:#fff;stroke-width:2;stroke-linecap:butt"/>
<path d="M60.5 552.9L53.4 560" style="stroke-width:3;stroke-linecap:butt"/>
<path class="t" d="M63.6 546.2L66.2 548.9"/>
<path d="M102 517.8C100.3 519.9 93.8 527.4 90.7 531.7C87.6 536 84.1 542.4 81.5 546.2C78.9 550 75.3 554.4 73.2 556.8C71.1 559.2 68.4 561.6 67.6 562.4" style="stroke-width:3.2;stroke-linecap:butt"/>
<path d="M102 517.8C100.3 519.9 93.8 527.4 90.7 531.7C87.6 536 84.1 542.4 81.5 546.2C78.9 550 75.3 554.4 73.2 556.8C71.1 559.2 68.4 561.6 67.6 562.4" style="stroke:#fff;stroke-width:2;stroke-linecap:butt"/>
<path d="M68.1 561.9L61 569" style="stroke-width:3;stroke-linecap:butt"/>
<path class="t" d="M72 555.3L74.6 558"/>
<path d="M131 444C130.5 444.9 130.1 447.6 127.1 451C124.1 454.4 113.8 466 108.7 469.5C103.6 473 92.9 475.3 89.2 477.5C85.5 479.7 82.4 483.9 80.6 485.7C78.8 487.5 76.5 490.5 75.9 491.2" style="stroke-width:8.2;stroke-linecap:butt"/>
<path d="M131 444C130.5 444.9 130.1 447.6 127.1 451C124.1 454.4 113.8 466 108.7 469.5C103.6 473 92.9 475.3 89.2 477.5C85.5 479.7 82.4 483.9 80.6 485.7C78.8 487.5 76.5 490.5 75.9 491.2" style="stroke:#fff;stroke-width:6.6;stroke-linecap:butt"/>
<path d="M156 441C154.3 443.7 147.9 455.7 143.3 461.3C138.7 466.9 125.2 477.4 121.2 482.7C117.2 488 115.5 497.3 113.4 500.8C111.3 504.3 107.5 507 105.7 508.9C103.9 510.8 100.9 514.4 100.2 515.2" style="stroke-width:8.2;stroke-linecap:butt"/>
<path d="M156 441C154.3 443.7 147.9 455.7 143.3 461.3C138.7 466.9 125.2 477.4 121.2 482.7C117.2 488 115.5 497.3 113.4 500.8C111.3 504.3 107.5 507 105.7 508.9C103.9 510.8 100.9 514.4 100.2 515.2" style="stroke:#fff;stroke-width:6.6;stroke-linecap:butt"/>
<path class="n" d="M72.5 488.3L79.2 494.2"/>
<path class="n" d="M118.3 455.8L122.7 461"/>
<path class="n" d="M106.5 466.1L110.2 473.5"/>
<path class="n" d="M87.3 474.2L91 481.6"/>
<path class="n" d="M83.6 477.9L88.8 484.6"/>
<path class="n" d="M85 477L90 483.8"/>
<path class="n" d="M78.4 482.4L83.6 488.3"/>
<path class="t" d="M106.5 466.1L112.2 470.8"/>
<path class="t" d="M87.3 474.2L93.2 478.5"/>
<path class="n" d="M96.9 511.9L103.5 518.5"/>
<path class="n" d="M130.1 467.6L136 473.5"/>
<path class="n" d="M117.5 480.1L124.9 483.8"/>
<path class="n" d="M109.4 499.3L116.8 502.3"/>
<path class="n" d="M107.2 502.3L113.1 506.7"/>
<path class="n" d="M105.8 503.8L111.6 508.4"/>
<path class="n" d="M102.8 506.7L108.7 511.1"/>
<path class="t" d="M117.5 480.1L121.5 486.5"/>
<path class="t" d="M109.4 499.3L114.5 503.8"/>
<path class="n" d="M135.5 433.5C137.9 434.5 144.9 437.3 150 439.4C155.1 441.5 162 443.8 166.2 446.2C170.4 448.6 172.5 451.2 175 454C177.5 456.8 179.2 460 181 463C182.8 466 184.8 470.5 185.5 472"/>
<path class="n" d="M123.5 447C125.6 448.9 131.8 455.2 136 458.5C140.2 461.8 145 464.7 148.5 466.9C152 469.1 154.6 470.7 157 471.8C159.4 472.9 160.2 473.2 163.2 473.5C166.2 473.8 171.3 473.6 175 473.4C178.7 473.1 183.8 472.2 185.5 472"/>
<path class="t" d="M125.5 446C127.6 447.8 133.9 453.8 138 457C142.1 460.2 146.7 462.9 150 465C153.3 467.1 155.7 468.7 158 469.8C160.3 470.9 161 471.1 164 471.4C167 471.7 172.8 471.6 176 471.5C179.2 471.4 182.2 470.7 183.5 470.5"/>
<path class="w" d="M122.2 438.2L129.6 432.1Q135.5 433 139.4 437.2Q140.8 440.8 137.4 443.8Q132 446 126.2 444.2Z"/>
<path class="k" d="M122.2 438.2L129.6 432.1Q135.5 433 139.4 437.2Q140.8 440.8 137.4 443.8Q132 446 126.2 444.2Z"/>
<path d="M125 438.3L130.2 434Q134.5 434.6 137.3 437.8Q138 440.5 135.7 442.4Q131.8 443.8 127.6 442.6Z" style="fill:#e4e4e4;stroke:#000;stroke-width:.8"/>
<path d="M126.8 439.6Q128 442.8 132 442.9Q136 442.3 136.9 438.6" style="stroke:#222;stroke-width:2.2;stroke-linecap:butt"/>
<path class="n" d="M138.5 444L140.6 446.6"/>
<ellipse cx="141.1" cy="447.2" rx="1.2" ry="1.7" transform="rotate(-40 141.1 447.2)" style="fill:#222;stroke:none"/>
<path class="n" d="M140.5 436.3L164.5 412.5"/>
<path class="n" d="M188.9 494.5L188.9 483Q189 476 185.5 472"/>
<path class="n" d="M70.6 600.8L106 565.4"/>
<path class="a" d="M82 589.4L76 598.2L73.2 595.4Z"/>
<path class="a" d="M88.6 582.7L94.6 573.9L97.4 576.7Z"/>
<text transform="translate(100.2 566.4) rotate(-45) scale(0.8 1)" font-size="17" text-anchor="middle">6</text>
<path class="n" d="M98 605.4L143.7 559.7"/>
<path class="a" d="M98 605.4L104 596.6L106.8 599.4Z"/>
<path class="a" d="M143.7 559.7L137.7 568.5L134.9 565.7Z"/>
<text transform="translate(106.3 595.1) rotate(-45) scale(0.8 1)" font-size="17">85 <tspan font-size="12" dx="3.5" dy="-3.8">±10</tspan></text>
<path class="n" d="M115.6 623L209.6 529"/>
<path class="a" d="M115.6 623L121.6 614.2L124.4 617Z"/>
<path class="a" d="M209.6 529L203.6 537.8L200.8 535Z"/>
<text transform="translate(142.9 588.7) rotate(-45) scale(0.8 1)" font-size="17">450 <tspan font-size="12" dx="0.5" dy="-5">±20</tspan></text>
<circle class="n2" cx="44.7" cy="576.5" r="9.3"/>
<text transform="translate(44.7 582) scale(0.9 1)" font-size="15.5" text-anchor="middle">1</text>
<circle class="n2" cx="19.2" cy="551.2" r="9.3"/>
<text transform="translate(19.2 556.9) scale(0.9 1)" font-size="15.5" text-anchor="middle">2</text>
<path class="n" d="M641.4 16.5L641.4 474.2"/>
<path class="n" d="M786.6 16.5L786.6 97"/>
<path class="n" d="M797.8 38.5L797.8 70"/>
<path class="n" d="M641.4 19.4L786.6 19.4"/>
<path class="a" d="M641.4 19.4L651.9 17.5L651.9 21.3Z"/>
<path class="a" d="M786.6 19.4L776.1 21.3L776.1 17.5Z"/>
<text transform="translate(714.5 17) scale(0.8 1)" font-size="17" text-anchor="middle">92</text>
<path class="n" d="M758 42.5L813 42.5"/>
<path class="a" d="M786.6 42.5L777.1 44.3L777.1 40.7Z"/>
<path class="a" d="M797.8 42.5L807.3 40.7L807.3 44.3Z"/>
<text transform="translate(762 38.8) scale(0.8 1)" font-size="17" text-anchor="middle">7</text>
<path class="c" d="M626 282.3L805 282.3"/>
<path class="n2" d="M787.2 97L787.2 71.6Q787.2 70.1 788.7 70.1L796.3 70.1Q797.8 70.1 797.8 71.6L797.8 493.3Q797.8 494.8 796.3 494.8L788.7 494.8Q787.2 494.8 787.2 493.3L787.2 473"/>
<path class="n" d="M794.4 72.1L794.4 492.8"/>
<path class="t" d="M788.2 72.2L797.3 72.2"/>
<path class="t" d="M788.2 492.8L797.3 492.8"/>
<path class="n2" d="M787.2 97L787.2 473"/>
<path class="n2" d="M668.2 100.2C671.8 100.5 681.7 101.4 690 102.2C698.3 103 708 104.5 718 104.9C728 105.3 740.3 104.9 750 104.6C759.7 104.3 770.9 103.9 776.4 103.3C781.9 102.7 781.2 102.1 783 101C784.8 99.9 786.4 97.5 787.1 96.8"/>
<path class="n2" d="M659.5 140.6C664.6 140.3 680.4 139.5 690 139C699.6 138.5 707.4 137.6 717.4 137.4C727.4 137.2 738.6 137.8 750 138C761.4 138.2 779.6 138.3 785.5 138.4"/>
<path class="t" d="M733.7 138.6C736.4 138.7 742.3 139.1 750 139.3C757.7 139.5 775 139.6 780 139.7"/>
<path class="n" d="M658.5 113.9C663.8 114.2 680.2 115.3 690 116C699.8 116.7 707.4 117.7 717.4 117.8C727.4 117.9 739.3 116.9 750 116.6C760.7 116.3 776.2 115.9 781.5 115.8"/>
<path class="n" d="M658.5 117.3C663.8 117.7 680.2 119 690 119.7C699.8 120.5 707.4 121.5 717.4 121.8C727.4 122.1 739.3 121.4 750 121.3C760.7 121.2 776.2 121 781.5 120.9"/>
<path class="n" d="M661.9 120.6C666.6 120.9 680.8 121.8 690 122.4C699.2 123 707.4 123.9 717.4 124C727.4 124.1 739.3 123.4 750 123.2C760.7 123 776.2 122.7 781.5 122.6"/>
<path class="n2" d="M717.4 104.9L717.4 137.5"/>
<path class="n" d="M733.7 105L733.7 137.8"/>
<path class="n2" d="M658 91.7L658 140.6"/>
<path class="n" d="M660.6 100L661.6 140.4"/>
<path class="t" d="M657.2 113L657.2 132"/>
<path class="n" d="M786.5 108.5L781.5 108.5L781.5 110.8L786.5 110.8"/>
<path class="n" d="M786.5 117L781.5 117L781.5 119.6L786.5 119.6"/>
<path class="n" d="M786.5 126L781.5 126L781.5 128.5L786.5 128.5"/>
<path class="n" d="M786.5 144.3L781.5 144.3L781.5 146.6L786.5 146.6"/>
<path class="n" d="M781.5 122.6C781.9 123.2 783.2 125.8 784 126C784.8 126.2 786.1 124.3 786.5 124"/>
<path class="n" d="M779 134C779.7 134.4 781.8 136.3 783 136.5C784.2 136.7 785.9 135.2 786.5 135"/>
<path class="n2" d="M660.2 406.1C665.2 406.4 680.5 407.2 690 407.8C699.5 408.4 707.4 409.3 717.4 409.5C727.4 409.7 738.6 409.3 750 409.2C761.4 409.1 780 409 786 409"/>
<path class="n" d="M658.5 416.3C663.8 415.9 680.2 414.9 690 414.2C699.8 413.5 707.4 412.4 717.4 412.1C727.4 411.9 739.3 412.6 750 412.7C760.7 412.8 776.2 412.9 781.5 412.9"/>
<path class="n" d="M658.5 422.2C663.8 421.9 680.2 420.9 690 420.3C699.8 419.7 707.4 418.7 717.4 418.5C727.4 418.3 739.3 419.1 750 419.3C760.7 419.5 776.2 419.7 781.5 419.8"/>
<path class="n" d="M660.2 432.1C665.2 432.2 680.5 432.3 690 432.4C699.5 432.5 707.4 432.6 717.4 432.6C727.4 432.6 739.3 432.6 750 432.6C760.7 432.6 776.2 432.6 781.5 432.6"/>
<path class="n2" d="M660.2 440.3C665.2 440.1 680.5 439.4 690 439C699.5 438.6 707.4 437.9 717.4 437.7C727.4 437.5 738.6 437.9 750 438C761.4 438.1 780 438.2 786 438.3"/>
<path class="n2" d="M717.4 409.5L717.4 460.5"/>
<path class="n" d="M733.6 409.2L733.6 461"/>
<path class="n2" d="M660.4 400.5C660.1 401.1 659 402.1 658.6 404C658.2 405.9 658 408.5 657.8 412C657.6 415.5 657.5 421.3 657.6 425C657.7 428.7 657.9 431.4 658.3 434C658.7 436.6 659.5 439.4 659.8 440.5"/>
<path class="n" d="M660.6 406L660.6 440"/>
<path class="n" d="M786.5 414.6L782 414.6L782 417.4L786.5 417.4"/>
<path class="n" d="M786.5 423L782 423L782 426.2L786.5 426.2"/>
<path class="n" d="M786.5 434.9L782 434.9L782 437.9L786.5 437.9"/>
<path class="n" d="M786.5 449.5L782 449.5L782 452.4L786.5 452.4"/>
<path class="t" d="M788 427.6L797.8 427.6"/>
<path class="t" d="M788 433.2L797.8 433.2"/>
<path class="t" d="M788 131L797.8 131"/>
<path class="t" d="M788 136.6L797.8 136.6"/>
<path class="n2" d="M641.4 91.7L658 91.7"/>
<path class="n" d="M641.4 94.1L657.5 94.1"/>
<path class="n2" d="M658 91.7C658.4 91.7 661.2 91.8 662 91.9C662.8 92 665.4 92.1 665.9 92.5C666.4 92.9 666.3 94.7 666.5 95.5C666.7 96.3 668 99.7 668.2 100.2"/>
<path class="n" d="M658.4 92.5L659.5 99.5L668 100.2"/>
<path class="n" d="M641.4 149.2L658 149.2"/>
<path class="n" d="M641.4 407.3L658 407.3"/>
<path class="n" d="M641.4 416.6L658 416.6"/>
<path d="M671 141L671 406.5" style="stroke:#b0b0b0;stroke-width:2.4;stroke-linecap:butt"/>
<path class="k" d="M669.6 141L669.6 406.5"/>
<path class="n" d="M672.4 141L672.4 406.8"/>
<path class="n" d="M658 141C658.4 145.8 659.5 160.2 660.2 170C660.9 179.8 661.6 189 662.3 200C663 211 663.8 222.3 664.3 236C664.8 249.7 665.6 266.3 665.6 282C665.6 297.7 665 315.3 664.4 330C663.8 344.7 662.8 357.5 662 370C661.2 382.5 660 399.2 659.6 405"/>
<path class="t" d="M660.6 141C660.9 145.8 662 160.2 662.6 170C663.2 179.8 663.9 189 664.5 200C665.1 211 665.9 222.3 666.4 236C666.9 249.7 667.3 266.3 667.3 282C667.3 297.7 666.9 315.3 666.4 330C665.9 344.7 664.9 357.5 664.2 370C663.5 382.5 662.4 399.2 662 405"/>
<path class="n" d="M659.6 141C659.6 141.9 659.6 144.9 659.9 146.5C660.2 148.1 660.8 149.9 661.2 150.5C661.6 151.1 662.2 150.8 662.5 150C662.8 149.2 662.9 147.5 663 146C663.1 144.5 663.2 141.8 663.2 141"/>
<path class="n" d="M659.6 405.5C659.8 404.3 660.2 400.4 660.6 398.5C661 396.6 661.8 394.6 662.3 394C662.8 393.4 663.5 393.8 663.8 395C664.1 396.2 664.1 399.2 664.2 401C664.3 402.8 664.4 405.2 664.4 406"/>
<path class="t" d="M668.5 262L668.5 265"/>
<path class="t" d="M668.5 268L668.5 271"/>
<path class="t" d="M668.5 274L668.5 277"/>
<path class="t" d="M668.5 280L668.5 283"/>
<path class="t" d="M668.5 286L668.5 289"/>
<path class="t" d="M668.5 292L668.5 295"/>
<path class="t" d="M668.5 298L668.5 301"/>
<path class="t" d="M668.5 218L668.5 220.5"/>
<path class="t" d="M668.5 332L668.5 334.5"/>
<path class="t" d="M668.5 347L668.5 349.5"/>
<path class="n" d="M675 141.5C675.8 144.6 678 152.9 680 160C682 167.1 686 180 687.2 184"/>
<path class="n" d="M708.6 184C710.8 183.3 718.1 181.8 722 180C725.9 178.2 729.4 174.8 732 173C734.6 171.2 736.8 170.1 737.7 169.5"/>
<path class="n" d="M731 179L733.5 185L729 184.6"/>
<path class="n" d="M735.5 185C729.5 185 690.5 184.5 684 184.6C677.5 184.7 680.3 184.8 679.5 185.5C678.7 186.2 677.4 189.3 676.8 191C676.2 192.7 674.8 196.5 674.3 200C673.8 203.5 673.1 216.7 672.9 221C672.7 225.3 672.6 234.7 672.6 236.5"/>
<path class="n" d="M672.6 221.8L722.5 221.8"/>
<path class="k" d="M672.6 236.5L721.5 236.5"/>
<path class="n2" d="M732.5 138.6C733.2 140 735.3 144.1 736.5 147C737.7 149.9 738.8 152.3 739.5 156C740.2 159.7 740.6 165 740.5 169C740.4 173 739.8 176.5 739 180C738.2 183.5 737 186 735.5 190C734 194 731.8 199 730 204C728.2 209 725.9 214.6 724.5 220C723.1 225.4 722 233.8 721.5 236.5"/>
<path class="n" d="M735 138.6C735.8 140.2 738.3 144.8 739.5 148C740.7 151.2 741.5 154.3 742 158C742.5 161.7 742.7 166.2 742.5 170C742.3 173.8 741.8 177.3 741 181C740.2 184.7 739.3 187.8 738 192C736.7 196.2 734.8 201 733 206C731.2 211 728.5 217.3 727 222C725.5 226.7 724.5 232 724 234"/>
<path class="n" d="M730 141C730.7 142.5 732.8 146.8 734 150C735.2 153.2 736.4 156.7 737 160C737.6 163.3 737.7 166.5 737.5 170C737.3 173.5 737 177 736 181C735 185 733.2 189.7 731.5 194C729.8 198.3 727.8 202.3 726 207C724.2 211.7 722.2 217.2 721 222C719.8 226.8 719.3 233.7 719 236"/>
<path class="n2" d="M721.5 236.5C722.2 238.1 724.5 242.4 726 246C727.5 249.6 729 253.7 730.5 258C732 262.3 733.7 267 735 272C736.3 277 737.5 282.7 738.5 288C739.5 293.3 740.6 298.7 741 304C741.4 309.3 741.5 314.3 741 320C740.5 325.7 739.4 332 738 338C736.6 344 734.8 350.3 732.6 356C730.4 361.7 726.9 367.2 725 372C723.1 376.8 722.1 382.4 721.5 384.5"/>
<path class="n" d="M724 234C724.8 236 726.9 241.8 728.5 246C730.1 250.2 732 254.5 733.5 259C735 263.5 736.5 268.2 737.7 273C738.9 277.8 739.7 282.8 740.5 288C741.3 293.2 742.2 298.7 742.5 304C742.8 309.3 742.9 314.3 742.5 320C742.1 325.7 741.2 332 740 338C738.8 344 737 350.3 735 356C733 361.7 729.9 367.5 728 372C726.1 376.5 724.3 381.2 723.6 383"/>
<path class="n2" d="M721.5 384.5C722.1 386.1 723.6 390.9 725 394C726.4 397.1 728.7 400.8 730 403C731.3 405.2 732.5 406.8 733 407.5"/>
<path class="n" d="M723.6 383C724.2 384.7 726 389.8 727.5 393C729 396.2 731.2 399.6 732.5 402C733.8 404.4 735 406.6 735.5 407.5"/>
<path class="t" d="M697 237.7L697 256"/>
<path class="t" d="M707.7 237.7L707.7 256"/>
<path class="t" d="M710.2 237.7L710.2 256"/>
<path class="t" d="M712.9 237.7L712.9 256"/>
<path class="n" d="M697 237.7L697 253.5"/>
<path class="n" d="M684.6 253.4C687.2 253.8 695.3 255 700 256C704.7 257 708.8 257.8 713 259.5C717.2 261.2 722.2 264.1 725.5 266.5C728.8 268.9 731.2 271.8 733 274C734.8 276.2 735.5 279 736 280"/>
<path class="n" d="M685.5 255.6C687.9 256 695.6 257.1 700 258.2C704.4 259.3 708.1 260.3 712 262C715.9 263.7 720.5 266.3 723.5 268.5C726.5 270.7 728.2 272.6 730 275C731.8 277.4 733.8 281.7 734.5 283"/>
<path class="n" d="M684.6 253.4C684 256.2 682.1 263.1 681 270C679.9 276.9 679 286.7 678 295C677 303.3 676 311.7 675.2 320C674.5 328.3 673.9 338.2 673.5 345C673.1 351.8 672.9 358.3 672.8 361"/>
<path class="t" d="M686.6 254C686.1 256.7 684.5 263.2 683.5 270C682.5 276.8 681.4 286.7 680.5 295C679.6 303.3 678.4 315.8 678 320"/>
<path class="n" d="M736 280C736.2 283.3 737.2 293.7 737 300C736.8 306.3 736 312.7 735 318C734 323.3 732.5 327.2 731 332C729.5 336.8 727.4 342.1 726 347C724.6 351.9 723.2 359 722.6 361.4"/>
<path class="n" d="M672.6 361.4L722.6 361.4"/>
<path class="k" d="M672.6 384.5L721.5 384.5"/>
<path class="n" d="M678.6 385.5L676 406.3"/>
<path class="n" d="M754.9 148.9L754.9 406"/>
<path class="n" d="M769.6 148.9L769.6 406"/>
<path class="n" d="M775.4 158L775.4 404"/>
<path class="t" d="M770.9 152L770.9 405"/>
<path class="n" d="M777.2 158L777.2 404"/>
<path class="n" d="M754.9 148.9L769.6 148.9"/>
<path class="n" d="M737.5 140.5C738.1 141.3 739.6 144.2 741 145.5C742.4 146.8 743.7 147.6 746 148.2C748.3 148.8 753.4 148.8 754.9 148.9"/>
<path class="n" d="M769.6 151C770.7 151.4 773.9 153.5 776 153.5C778.1 153.5 780.4 152.1 782 151C783.6 149.9 784.9 147.7 785.5 147"/>
<path class="t" d="M769.6 154C770.7 154.5 773.8 156.9 776 157C778.2 157.1 781.8 154.9 783 154.5"/>
<path class="t" d="M741 148L745.5 236"/>
<path class="t" d="M741.5 184C741.8 182.3 742.6 177.2 743.5 174C744.4 170.8 745.1 167.2 747 165C748.9 162.8 753.6 161.2 754.9 160.5"/>
<path class="n" d="M739.6 195C740.5 194.3 743.3 192 745 191C746.7 190 748.4 189.6 750 189.2C751.6 188.8 754.1 188.5 754.9 188.3"/>
<path class="n" d="M738.8 199C739.8 198.4 743.1 196.3 745 195.5C746.9 194.7 748.4 194.3 750 194C751.6 193.7 754.1 193.6 754.9 193.5"/>
<path class="n" d="M738.6 204C739.7 203.4 743.1 201.3 745 200.5C746.9 199.7 748.4 199.3 750 199C751.6 198.7 754.1 198.8 754.9 198.7"/>
<path class="n" d="M741.2 282C741.3 279.7 741.3 272.3 742 268C742.7 263.7 744.2 258.7 745.5 256C746.8 253.3 748.4 252.9 750 252C751.6 251.1 754.1 250.8 754.9 250.6"/>
<path class="n" d="M743 304C743.5 303.3 744.8 301 746 300C747.2 299 748.5 298.5 750 298C751.5 297.5 754.1 297.2 754.9 297"/>
<path class="n" d="M743 311C743.5 310.3 744.8 308 746 307C747.2 306 748.5 305.5 750 305C751.5 304.5 754.1 304.2 754.9 304"/>
<path class="n" d="M743 318C743.5 317.3 744.8 315 746 314C747.2 313 748.5 312.5 750 312C751.5 311.5 754.1 311.2 754.9 311"/>
<path class="t" d="M744 236L746 330"/>
<path class="t" d="M746 330C745.5 336.7 744 357.3 743 370C742 382.7 740.5 400 740 406"/>
<path class="n" d="M740.5 400C740.8 397.5 741.2 389.3 742 385C742.8 380.7 743.7 376.8 745 374C746.3 371.2 748.4 369.3 750 368C751.6 366.7 754.1 366.5 754.9 366.2"/>
<path class="n" d="M741 406C741.7 405 743.5 401.5 745 400C746.5 398.5 748.4 397.7 750 397C751.6 396.3 754.1 396.2 754.9 396"/>
<path class="n" d="M742.5 406C743.1 405.5 744.8 403.8 746 403C747.2 402.2 748.5 401.4 750 401C751.5 400.6 754.1 400.4 754.9 400.3"/>
<path class="n" d="M739.8 404C740.6 402.8 742.8 398.8 744.5 397C746.2 395.2 748.3 394.2 750 393.5C751.7 392.8 754.1 392.7 754.9 392.5"/>
<path class="n" d="M769.6 406C770.7 406.5 774.1 408.8 776 409C777.9 409.2 779.4 409 781 407.5C782.6 406 784.8 401.2 785.5 400"/>
<path class="t" d="M754.9 406L769.6 406"/>
<rect class="n" x="764.3" y="280.3" width="5.2" height="4.6"/>
<rect class="n" x="783.2" y="276.3" width="2.7" height="12.8" rx="1"/>
<path class="n" d="M641.4 474.2L667 474.2"/>
<path class="n" d="M641.4 472L645.5 472"/>
<path class="n2" d="M644.8 474L644.8 442.7L668 441.6"/>
<path class="n" d="M668 441.6L668 474.2"/>
<path class="n" d="M659.2 440.5L659.2 442"/>
<path class="n" d="M645.5 473L645.5 449L654.3 449L654.3 473"/>
<path class="n" d="M645.5 450Q650 446.5 654.3 450"/>
<path class="n" d="M645.5 458Q650 454.5 654.3 458"/>
<path class="n" d="M645.5 468.5Q650 465 654.3 468.5"/>
<path class="n" d="M656.5 458L666 456.5L661.5 472.6L657.5 472.6L656.5 458"/>
<path class="t" d="M659 458L659.8 472"/>
<path class="n2" d="M646.2 474L646.2 489"/>
<path class="n2" d="M654.2 474L654.2 489"/>
<path class="n" d="M646.2 478.5Q650 476.5 654.2 478.5"/>
<path class="n" d="M646.2 482Q650 480 654.2 482"/>
<path class="n" d="M646.2 485.3Q650 483.3 654.2 485.3"/>
<path class="n" d="M646.2 488.6Q650 486.6 654.2 488.6"/>
<path class="n" d="M646.8 489L647 517.5"/>
<path class="n" d="M653.6 489L653.4 517.5"/>
<path class="t" d="M648.3 489L648.3 503"/>
<path class="t" d="M649.6 489L649.6 503"/>
<path class="t" d="M650.8 489L650.8 503"/>
<path class="t" d="M652.2 489L652.2 503"/>
<path class="t" d="M647 503L653.4 503"/>
<path class="t" d="M647 510L653.4 510"/>
<path class="n" d="M648.6 503L649 517.5"/>
<path class="n" d="M651.8 503L651.5 517.5"/>
<path class="n" d="M648.4 517.5L649.4 567.5L651.3 567.5L652 517.5"/>
<path d="M650.3 519L650.5 563" style="stroke-width:1.4;stroke-dasharray:3.2 1.4;stroke-linecap:butt"/>
<path class="t" d="M652.6 517.5L653.2 530"/>
<path class="n2" d="M668.6 464.3C672.2 463.9 681.8 462.7 690 462C698.2 461.3 707.9 460.5 717.9 459.9C727.9 459.3 740.7 458.6 750 458.4C759.3 458.2 768.6 458.2 773.8 458.6C779 459 779.1 459.5 781 460.5C782.9 461.5 784 462.4 785 464.5C786 466.6 786.9 471.6 787.3 473"/>
<path class="n" d="M668 445.5C669.2 445.2 671.3 444.5 675 444C678.7 443.5 682.9 443.1 690 442.6C697.1 442.1 707.9 441.2 717.9 441C727.9 440.8 738.7 441.3 750 441.5C761.3 441.7 779.6 442.1 785.5 442.2"/>
<path class="n" d="M673.5 447.5C676.2 447.3 682.6 446.8 690 446.4C697.4 445.9 707.9 445 717.9 444.8C727.9 444.6 739.4 445.2 750 445.4C760.6 445.6 776.2 445.9 781.5 446"/>
<path class="n" d="M671 455.5C674.2 455.5 682.2 455.2 690 455.3C697.8 455.4 707.9 455.9 717.9 455.8C727.9 455.8 739.4 455.2 750 455C760.6 454.8 776.2 454.6 781.5 454.5"/>
<path class="n" d="M717.4 441L717.4 460"/>
<path class="n" d="M668 452.5L673.5 447.5L673.5 455L668 455.5"/>
<path d="M669.5 449.5L673.5 447.5L673.5 455L669.5 455.3Z" style="fill:#777;stroke:none"/>
<path class="n" d="M723 441.5C722.8 442.9 722.2 447.6 721.8 450C721.4 452.4 720.7 455.2 720.5 456.2"/>
<path class="n" d="M720.5 456.2C721.8 456 725.9 455.8 728 455C730.1 454.2 731.6 453 733 451.5C734.4 450 735.8 447.6 736.5 446C737.2 444.4 737.3 442.7 737.5 442"/>
<circle class="k" cx="724" cy="438.6" r="1.6"/>
</svg></body></html>
